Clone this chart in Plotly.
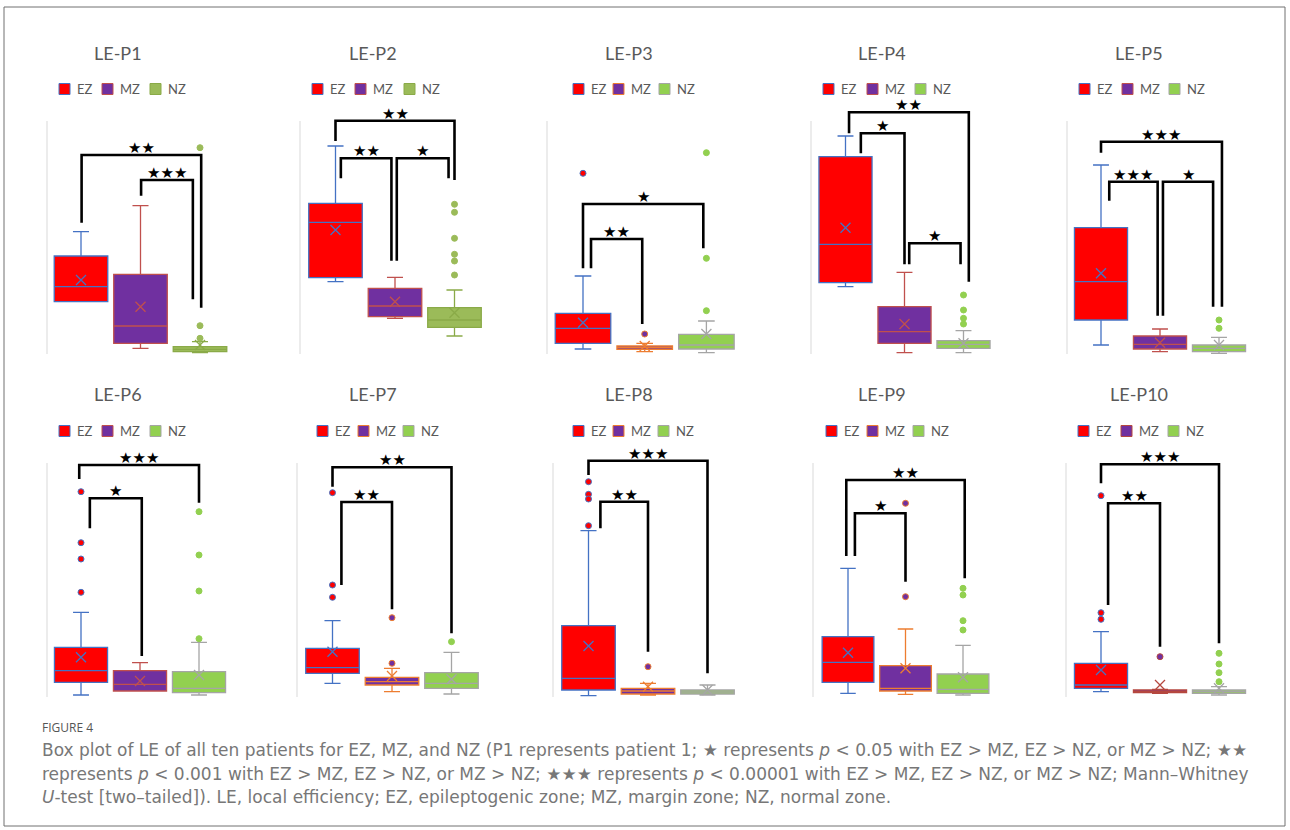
import plotly.graph_objects as go

FIG_W, FIG_H = 1290, 830

# ---------------- data (arbitrary LE units) ----------------
categories = ["EZ", "MZ", "NZ"]
titles = ["LE-P1", "LE-P2", "LE-P3", "LE-P4", "LE-P5",
          "LE-P6", "LE-P7", "LE-P8", "LE-P9", "LE-P10"]

# per panel: [EZ, MZ, NZ]
lower_fence = [[52.3, 5.7, 1.3], [72.3, 35.7, 18.0], [5.0, 2.3, 1.3], [67.3, 1.3, 1.3], [9.0, 2.3, 0.7],
               [2.0, 6.0, 2.0], [13.7, 5.3, 3.0], [1.3, 2.0, 2.0], [3.7, 2.7, 2.0], [5.3, 3.7, 2.0]]
q1 = [[52.3, 10.7, 2.3], [76.3, 37.3, 26.7], [10.7, 4.7, 5.0], [71.3, 10.7, 5.7], [34.0, 5.0, 2.3],
      [14.7, 6.0, 4.3], [23.7, 12.0, 8.7], [7.0, 3.0, 3.0], [14.7, 6.0, 3.7], [8.7, 4.3, 3.7]]
median = [[67.3, 28.0, 4.7], [131.7, 48.0, 34.0], [25.7, 6.3, 9.0], [109.7, 22.3, 9.7], [72.3, 9.7, 5.7],
          [26.3, 12.7, 8.7], [29.3, 15.3, 13.7], [18.7, 6.0, 5.0], [34.7, 8.7, 7.7], [12.0, 5.3, 5.3]]
q3 = [[98.0, 79.7, 7.3], [150.7, 65.7, 46.3], [40.7, 8.0, 19.7], [197.3, 47.3, 13.3], [126.3, 18.0, 9.0],
      [49.7, 26.3, 25.3], [48.7, 19.7, 24.3], [71.3, 8.7, 7.0], [60.3, 31.3, 23.0], [33.7, 7.0, 7.0]]
upper_fence = [[122.3, 148.3, 12.3], [208.0, 76.7, 64.0], [78.0, 10.7, 33.0], [218.0, 81.7, 23.3], [189.0, 25.0, 16.7],
               [84.7, 34.3, 54.7], [76.3, 28.7, 44.7], [166.3, 13.7, 12.0], [128.7, 68.0, 51.7], [65.3, 7.7, 10.3]]
mean_val = [[74.0, 47.3, 9.0], [124.0, 52.3, 41.3], [31.3, 8.0, 20.0], [126.3, 30.0, 10.7], [80.7, 11.3, 9.0],
            [39.7, 16.0, 22.0], [45.3, 21.0, 17.7], [51.0, 10.3, 7.0], [44.3, 28.7, 19.7], [27.0, 12.0, 8.7]]
outliers_ez = [[], [], [180.7], [], [],
               [205.3, 154.3, 138.0, 104.7], [204.3, 112.0, 99.7], [215.3, 202.7, 198.0, 171.3], [], [201.3, 84.3, 77.7]]
outliers_mz = [[], [], [20.0], [], [],
               [], [79.3, 33.7], [30.3], [193.7, 100.3], [40.3]]
outliers_nz = [[206.3, 28.3, 15.7], [149.7, 141.7, 115.7, 99.7, 93.0, 79.0], [201.3, 95.7, 43.3], [59.0, 44.0, 35.7, 30.0], [34.0, 25.7],
               [185.3, 142.0, 106.0, 58.3], [55.3], [], [108.7, 102.0, 76.3, 67.0], [43.7, 33.0, 24.3, 15.3]]

# significance brackets: compared groups, bracket height, leg ends, stars
bracket_pairs = [[(0, 2), (1, 2)], [(0, 2), (0, 1), (1, 2)], [(0, 2), (0, 1)], [(0, 2), (0, 1), (1, 2)],
                 [(0, 2), (0, 1), (1, 2)], [(0, 2), (0, 1)], [(0, 2), (0, 1)], [(0, 2), (0, 1)],
                 [(0, 2), (0, 1)], [(0, 2), (0, 1)]]
bracket_top = [[199.0, 174.0], [233.3, 195.7, 195.7], [150.0, 115.0], [241.7, 220.7, 110.7],
               [212.3, 172.3, 172.3], [232.0, 198.7], [229.7, 195.0], [236.3, 195.3],
               [217.0, 183.7], [232.7, 193.7]]
bracket_left_end = [[131.3, 158.3], [213.0, 175.7, 93.3], [85.7, 85.7], [220.7, 200.7, 89.7],
                    [201.3, 153.3, 38.3], [218.0, 168.7], [210.3, 112.0], [222.0, 168.7],
                    [141.0, 141.0], [213.7, 92.0]]
bracket_right_end = [[46.3, 54.7], [174.0, 93.3, 175.7], [105.7, 30.0], [72.3, 89.7, 89.7],
                     [47.3, 38.3, 47.3], [194.3, 41.0], [63.7, 87.7], [23.7, 45.3],
                     [118.7, 115.3], [53.7, 50.3]]
bracket_stars = [["★★", "★★★"], ["★★", "★★", "★"], ["★", "★★"], ["★★", "★", "★"],
                 ["★★★", "★★★", "★"], ["★★★", "★"], ["★★", "★★"], ["★★★", "★★"],
                 ["★★", "★"], ["★★★", "★★"]]

caption_label = "FIGURE 4"
caption_lines = [
    "Box plot of LE of all ten patients for EZ, MZ, and NZ (P1 represents patient 1; ★ represents <i>p</i> &lt; 0.05 with EZ &gt; MZ, EZ &gt; NZ, or MZ &gt; NZ; ★★",
    "represents <i>p</i> &lt; 0.001 with EZ &gt; MZ, EZ &gt; NZ, or MZ &gt; NZ; ★★★ represents <i>p</i> &lt; 0.00001 with EZ &gt; MZ, EZ &gt; NZ, or MZ &gt; NZ; Mann–Whitney",
    "<i>U</i>-test [two–tailed]). LE, local efficiency; EZ, epileptogenic zone; MZ, margin zone; NZ, normal zone.",
]

# ---------------- styles / layout ----------------
EZ_FILL, EZ_LINE = "#FF0000", "#4472C4"
MZ_FILL = "#7030A0"
MZ_LINE = ["#C0504D", "#C0504D", "#ED7D31", "#C0504D", "#C0504D",
           "#C0504D", "#ED7D31", "#ED7D31", "#ED7D31", "#B5473F"]
NZ_FILL = ["#9BBB59", "#9BBB59"] + ["#92D050"] * 8
NZ_LINE = ["#8AAA48", "#8AAA48"] + ["#A5A5A5"] * 8
NZ_DOT_LINE = ["#9BBB59", "#9BBB59"] + ["#92D050"] * 8

axis_px = [47, 300, 547, 811, 1067, 47, 297, 553, 813, 1066]
first_center_px = [81, 335.5, 583, 845.5, 1101, 81, 332.5, 588.5, 848, 1101]
spacing_px = [59.5, 59.5, 61.7, 59, 59, 59, 59.5, 59.5, 57.5, 59]
row_bottom_px = [354, 697]
row_top_px = [98, 440]
axis_top_val = [233, 234]
title_cx = [118, 373, 629, 882, 1139, 118, 373, 629, 882, 1139]
title_cy = [53, 394]
legend_x = [59, 312, 573, 823, 1079, 59, 317, 573, 826, 1078]
legend_offsets = [[0, 43, 91], [0, 43, 92], [0, 40, 86], [0, 44, 92], [0, 43, 90],
                  [0, 43, 91], [0, 41, 86], [0, 40, 85], [0, 41, 87], [0, 43, 90]]
legend_cy = [89, 431]
leg_offsets = [[(0.01, 0.02), (0.01, -0.12)], [(0, 0), (0.09, -0.06), (0.03, -0.1)],
               [(0, -0.05), (0.13, -0.04)], [(0.06, 0.09), (0.26, 0), (0.08, -0.05)],
               [(0, 0.05), (0.14, -0.04), (0.05, -0.1)], [(-0.03, 0), (0.15, 0.03)],
               [(0, 0), (0.15, 0)], [(0, 0), (0.2, 0)], [(-0.03, 0.03), (0.12, 0)], [(0, 0), (0.12, 0)]]

TEXT_GREY = "#595959"
fig = go.Figure()
shapes = []
annotations = []
layout_axes = {}

for p in range(10):
    k = p + 1
    row = 0 if p < 5 else 1
    xa = "x" if k == 1 else f"x{k}"
    ya = "y" if k == 1 else f"y{k}"
    s = spacing_px[p]
    r0 = -(first_center_px[p] - axis_px[p]) / s
    span = 3.7
    x_dom = [axis_px[p] / FIG_W, min(1.0, (axis_px[p] + span * s) / FIG_W)]
    bottom, top = row_bottom_px[row], row_top_px[row]
    y_dom = [1 - bottom / FIG_H, 1 - top / FIG_H]
    layout_axes["xaxis" if k == 1 else f"xaxis{k}"] = dict(
        domain=x_dom, range=[r0, r0 + span], anchor=ya, showgrid=False, zeroline=False,
        showticklabels=False, ticks="", showline=False, fixedrange=True)
    layout_axes["yaxis" if k == 1 else f"yaxis{k}"] = dict(
        domain=y_dom, range=[0, bottom - top], anchor=xa, showgrid=False, zeroline=False,
        showticklabels=False, ticks="", showline=False, fixedrange=True)

    fills = [EZ_FILL, MZ_FILL, NZ_FILL[p]]
    lines = [EZ_LINE, MZ_LINE[p], NZ_LINE[p]]
    dot_lines = [EZ_LINE, MZ_LINE[p], NZ_DOT_LINE[p]]
    outs = [outliers_ez[p], outliers_mz[p], outliers_nz[p]]

    # vertical axis line
    shapes.append(dict(type="line", xref=f"{xa} domain", yref=ya, x0=0, x1=0,
                       y0=0, y1=axis_top_val[row], line=dict(color="#D9D9D9", width=1), layer="below"))

    for j, cat in enumerate(categories):
        fig.add_trace(go.Box(
            x=[j], q1=[q1[p][j]], median=[median[p][j]], q3=[q3[p][j]],
            lowerfence=[lower_fence[p][j]], upperfence=[upper_fence[p][j]],
            name=cat, width=0.9, whiskerwidth=0.3, fillcolor=fills[j],
            line=dict(color=lines[j], width=1.3), boxpoints=False,
            xaxis=xa, yaxis=ya, showlegend=False, hoverinfo="skip"))
        if outs[j]:
            fig.add_trace(go.Scatter(
                x=[j] * len(outs[j]), y=outs[j], mode="markers",
                marker=dict(symbol="circle", size=6, color=fills[j],
                            line=dict(color=dot_lines[j], width=1)),
                xaxis=xa, yaxis=ya, showlegend=False, hoverinfo="skip"))
        fig.add_trace(go.Scatter(
            x=[j], y=[mean_val[p][j]], mode="markers",
            marker=dict(symbol="x-thin-open", size=10, color=lines[j],
                        line=dict(color=lines[j], width=1.3)),
            xaxis=xa, yaxis=ya, showlegend=False, hoverinfo="skip"))

        # legend swatch + label
        lx = legend_x[p] + legend_offsets[p][j]
        cy = legend_cy[row]
        shapes.append(dict(type="rect", xref="paper", yref="paper",
                           x0=lx / FIG_W, x1=(lx + 11) / FIG_W,
                           y0=1 - (cy + 5.5) / FIG_H, y1=1 - (cy - 5.5) / FIG_H,
                           fillcolor=fills[j], line=dict(color=lines[j], width=1)))
        annotations.append(dict(xref="paper", yref="paper", x=(lx + 16) / FIG_W, y=1 - cy / FIG_H,
                                text=cat, showarrow=False, xanchor="left", yanchor="middle",
                                font=dict(family="Lato", size=13, color=TEXT_GREY)))

    # significance brackets
    for b, (g0, g1) in enumerate(bracket_pairs[p]):
        xl = g0 + leg_offsets[p][b][0]
        xr = g1 + leg_offsets[p][b][1]
        fig.add_trace(go.Scatter(
            x=[xl, xl, xr, xr],
            y=[bracket_left_end[p][b], bracket_top[p][b], bracket_top[p][b], bracket_right_end[p][b]],
            mode="lines", line=dict(color="black", width=2.6),
            xaxis=xa, yaxis=ya, showlegend=False, hoverinfo="skip"))
        annotations.append(dict(xref=xa, yref=ya, x=(xl + xr) / 2, y=bracket_top[p][b],
                                text=bracket_stars[p][b], showarrow=False,
                                xanchor="center", yanchor="bottom", yshift=-4,
                                font=dict(family="DejaVu Sans", size=15, color="black")))

    # panel title
    annotations.append(dict(xref="paper", yref="paper", x=title_cx[p] / FIG_W,
                            y=1 - title_cy[row] / FIG_H, text=titles[p], showarrow=False,
                            xanchor="center", yanchor="middle",
                            font=dict(family="Lato", size=18, color=TEXT_GREY)))

# caption
annotations.append(dict(xref="paper", yref="paper", x=40 / FIG_W, y=1 - 727 / FIG_H,
                        text=caption_label, showarrow=False, xanchor="left", yanchor="middle",
                        font=dict(family="Open Sans", size=12, color="#555555")))
for i, line in enumerate(caption_lines):
    annotations.append(dict(xref="paper", yref="paper", x=40 / FIG_W,
                            y=1 - (750 + 23.5 * i) / FIG_H, text=line, showarrow=False,
                            xanchor="left", yanchor="middle",
                            font=dict(family="DejaVu Sans", size=17, color="#777777")))

# outer frame
shapes.append(dict(type="rect", xref="paper", yref="paper", x0=4 / FIG_W, x1=1285 / FIG_W,
                   y0=1 - 826 / FIG_H, y1=1 - 7 / FIG_H, line=dict(color="#707070", width=1)))

fig.update_layout(
    width=FIG_W, height=FIG_H, margin=dict(l=0, r=0, t=0, b=0),
    paper_bgcolor="white", plot_bgcolor="rgba(0,0,0,0)", showlegend=False,
    boxmode="overlay", shapes=shapes, annotations=annotations, **layout_axes)

fig.write_html("out.html", config={"displayModeBar": False},
               post_script="document.body.style.margin='0px';")
